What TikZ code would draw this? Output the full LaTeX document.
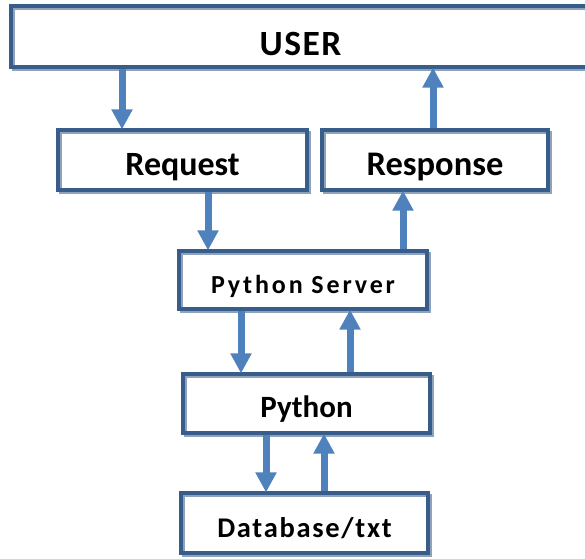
\documentclass[tikz,border=0pt]{standalone}
\usepackage{fontspec}
\setmainfont{Carlito}
\usetikzlibrary{arrows.meta}
\definecolor{arrowc}{HTML}{4F81BD}
\definecolor{borderc}{HTML}{385D8A}
\definecolor{shadowc}{HTML}{8FA2BC}
\newcommand{\lowtext}[2]{\raisebox{-#1}[0pt][0pt]{#2}}
\tikzset{
  box/.style={draw=borderc, line width=3.2pt, minimum width=#1, inner sep=0pt,
    preaction={draw=shadowc, line width=3pt, transform canvas={shift={(2.5pt,-2.5pt)}}}},
  arr/.style={draw=arrowc, line width=7pt, -{Triangle[width=20pt,length=20pt]}, shorten >=-1pt}
}
\begin{document}
\begin{tikzpicture}[x=1pt,y=-1pt]
\useasboundingbox (0,0) rectangle (585,558);
\begin{scope}
\clip (0,0) rectangle (585,558);
\node[box=579pt, minimum height=61pt, font=\bfseries\fontsize{35.5}{40}\selectfont\addfontfeature{LetterSpace=4}] (user) at (300.5,36.5) {\lowtext{18.5pt}{USER}};
\end{scope}
\node[box=249pt, minimum height=60pt, font=\bfseries\fontsize{34}{38}\selectfont] (req) at (182.5,160) {\lowtext{15pt}{Request}};
\node[box=226pt, minimum height=60pt, font=\bfseries\fontsize{34.5}{38}\selectfont] (resp) at (435,160) {\lowtext{15.5pt}{Response}};
\node[box=248pt, minimum height=58pt, font=\bfseries\fontsize{26}{32}\selectfont\addfontfeature{LetterSpace=11}] (ps) at (303,280) {\lowtext{13pt}{Python Server}};
\node[box=247pt, minimum height=59pt, font=\bfseries\fontsize{31}{36}\selectfont] (py) at (306.5,403.5) {\lowtext{13.5pt}{Python}};
\node[box=247pt, minimum height=60pt, font=\bfseries\fontsize{28.5}{34}\selectfont\addfontfeature{LetterSpace=6}] (db) at (304.5,523) {\lowtext{14pt}{Database/txt}};
% arrows
\draw[arr] (user.south -| 122,0) -- (req.north -| 122,0);
\draw[arr] (resp.north -| 433,0) -- (user.south -| 433,0);
\draw[arr] (req.south -| 208,0) -- (ps.north -| 208,0);
\draw[arr] (ps.north -| 403,0) -- (resp.south -| 403,0);
\draw[arr] (ps.south -| 241,0) -- (py.north -| 241,0);
\draw[arr] (py.north -| 350,0) -- (ps.south -| 350,0);
\draw[arr] (py.south -| 266,0) -- (db.north -| 266,0);
\draw[arr] (db.north -| 324,0) -- (py.south -| 324,0);
\end{tikzpicture}
\end{document}
